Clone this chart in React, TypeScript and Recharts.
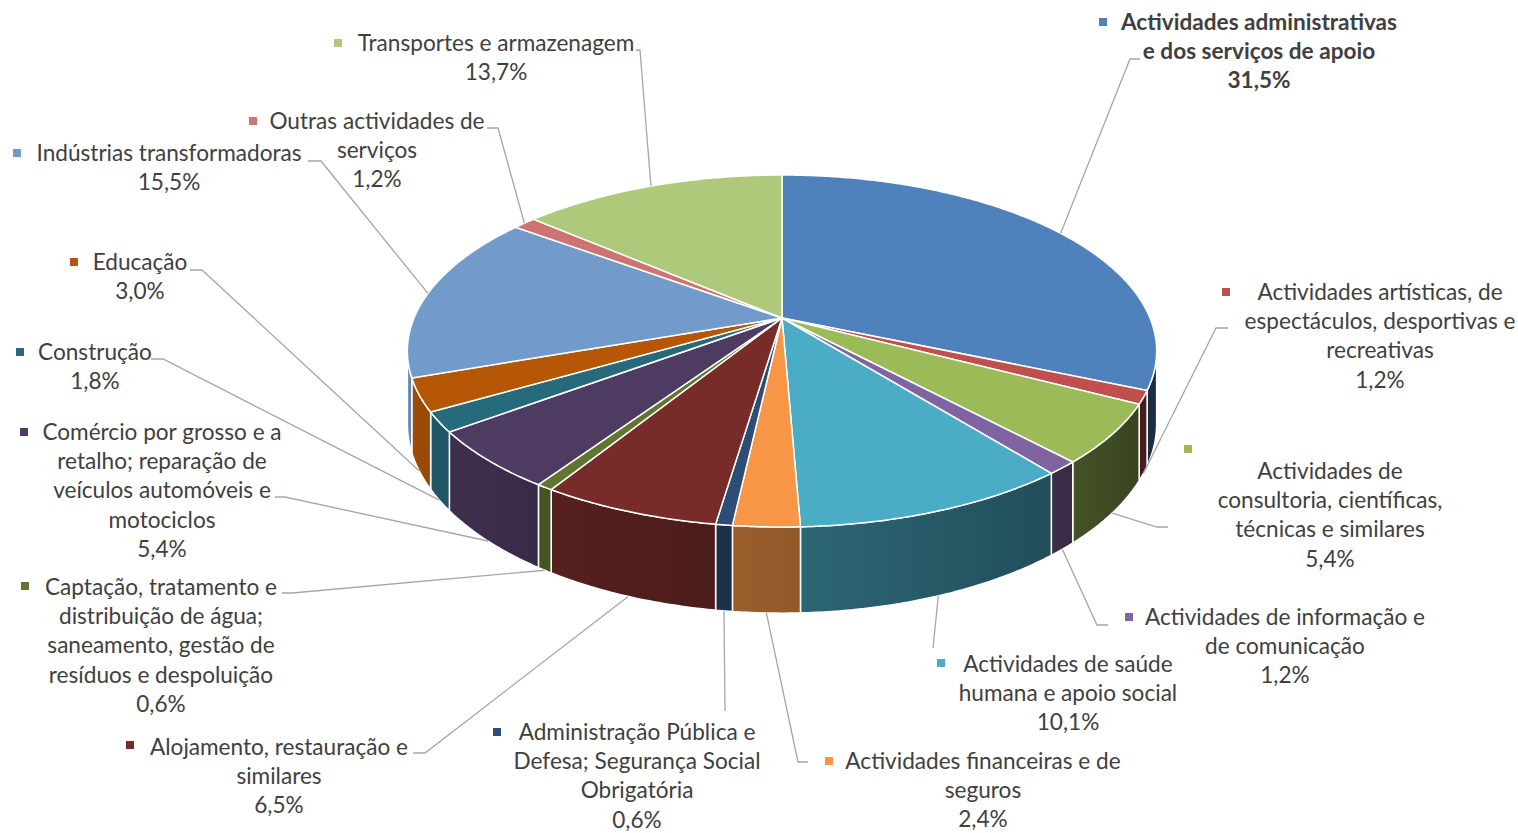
import React from 'react';
import { PieChart, Pie } from 'recharts';

const CATEGORIES = [
  'Actividades administrativas e dos serviços de apoio',
  'Actividades artísticas, de espectáculos, desportivas e recreativas',
  'Actividades de consultoria, científicas, técnicas e similares',
  'Actividades de informação e de comunicação',
  'Actividades de saúde humana e apoio social',
  'Actividades financeiras e de seguros',
  'Administração Pública e Defesa; Segurança Social Obrigatória',
  'Alojamento, restauração e similares',
  'Captação, tratamento e distribuição de água; saneamento, gestão de resíduos e despoluição',
  'Comércio por grosso e a retalho; reparação de veículos automóveis e motociclos',
  'Construção',
  'Educação',
  'Indústrias transformadoras',
  'Outras actividades de serviços',
  'Transportes e armazenagem',
];

const VALUES = [31.5, 1.2, 5.4, 1.2, 10.1, 2.4, 0.6, 6.5, 0.6, 5.4, 1.8, 3.0, 15.5, 1.2, 13.7];

const COLORS = [
  '#4F81BD', '#C0504D', '#9BBB59', '#8064A2', '#4BACC6', '#F79646', '#2C4D75',
  '#772C2A', '#5F7530', '#4D3B62', '#276A7C', '#B65708', '#729ACA', '#CD7371', '#AFC97A',
];

// wrapped label text (layout only)
const LABEL_LINES: string[][] = [
  ['Actividades administrativas', 'e dos serviços de apoio'],
  ['Actividades artísticas, de', 'espectáculos, desportivas e', 'recreativas'],
  ['Actividades de', 'consultoria, científicas,', 'técnicas e similares'],
  ['Actividades de informação e', 'de comunicação'],
  ['Actividades de saúde', 'humana e apoio social'],
  ['Actividades financeiras e de', 'seguros'],
  ['Administração Pública e', 'Defesa; Segurança Social', 'Obrigatória'],
  ['Alojamento, restauração e', 'similares'],
  ['Captação, tratamento e', 'distribuição de água;', 'saneamento, gestão de', 'resíduos e despoluição'],
  ['Comércio por grosso e a', 'retalho; reparação de', 'veículos automóveis e', 'motociclos'],
  ['Construção'],
  ['Educação'],
  ['Indústrias transformadoras'],
  ['Outras actividades de', 'serviços'],
  ['Transportes e armazenagem'],
];

// label layout: text centre x, first line centre y, marker centre, leader elbow, leader end
const LABEL_LAYOUT = [
  { tx: 1259, ty: 22, mx: 1103, my: 22, bx: 1130, by: 59, ex: 1140, ey: 59 },
  { tx: 1380, ty: 292, mx: 1226, my: 292, bx: 1216, by: 328, ex: 1228, ey: 328 },
  { tx: 1330, ty: 471, mx: 1188, my: 449, bx: 1157, by: 527, ex: 1168, ey: 527 },
  { tx: 1285, ty: 617, mx: 1129, my: 617, bx: 1097, by: 625, ex: 1108, ey: 625 },
  { tx: 1068, ty: 664, mx: 941, my: 663, bx: 933, by: 648, ex: 933, ey: 648 },
  { tx: 983, ty: 761, mx: 829, my: 761, bx: 798, by: 762, ex: 808, ey: 762 },
  { tx: 637, ty: 732, mx: 497, my: 732, bx: 725, by: 711, ex: 725, ey: 711 },
  { tx: 279, ty: 747, mx: 130, my: 745, bx: 425, by: 753, ex: 413, ey: 753 },
  { tx: 161, ty: 587, mx: 25, my: 586, bx: 292, by: 593, ex: 282, ey: 593 },
  { tx: 162, ty: 432, mx: 24, my: 432, bx: 285, by: 497, ex: 275, ey: 497 },
  { tx: 95, ty: 352, mx: 20, my: 352, bx: 163, by: 359, ex: 151, ey: 359 },
  { tx: 140, ty: 262, mx: 74, my: 262, bx: 202, by: 270, ex: 190, ey: 270 },
  { tx: 169, ty: 153, mx: 17, my: 153, bx: 321, by: 161, ex: 308, ey: 161 },
  { tx: 377, ty: 121, mx: 253, my: 121, bx: 498, by: 128, ex: 487, ey: 128 },
  { tx: 496, ty: 43, mx: 338, my: 43, bx: 640, by: 50, ex: 636, ey: 50 },
];

const DATA = CATEGORIES.map((name, i) => ({ name, value: VALUES[i] }));

const PERSP = 0.1875;
const TILT = 0.4614;
const DEPTH = 70;
const FONT = "Lato, 'Open Sans', sans-serif";
const FONT_SIZE = 22.6;
const LINE_H = 29.2;
const TEXT_COLOR = '#404040';
const LEADER = '#A6A6A6';

function proj(cx: number, cy: number, r: number, deg: number, drop = 0): [number, number] {
  const t = (deg * Math.PI) / 180;
  const s = Math.sin(t);
  const c = Math.cos(t);
  const w = 1 + PERSP * s;
  return [cx + (r * c) / w, cy - (r * TILT * s) / w + drop / w];
}

function arcPts(cx: number, cy: number, r: number, from: number, to: number, drop = 0) {
  const n = Math.max(2, Math.ceil(Math.abs(to - from) / 0.5) + 1);
  const pts: [number, number][] = [];
  for (let i = 0; i < n; i++) {
    pts.push(proj(cx, cy, r, from + ((to - from) * i) / (n - 1), drop));
  }
  return pts;
}

function shade(hex: string, f: number) {
  const n = parseInt(hex.slice(1), 16);
  const r = Math.round(((n >> 16) & 255) * f);
  const g = Math.round(((n >> 8) & 255) * f);
  const b = Math.round((n & 255) * f);
  return `rgb(${r},${g},${b})`;
}

function wallFactor(deg: number) {
  const phi = (((90 - deg) % 360) + 360) % 360;
  const f = 0.41 + (phi - 130) * 0.0038;
  return Math.min(0.9, Math.max(0.36, f));
}

const fmt = (v: number) => v.toFixed(1).replace('.', ',') + '%';

const renderSlice = (props: any) => {
  const { cx, cy, outerRadius, index } = props;
  const sa: number = props.startAngle;
  const ea: number = props.endAngle;
  const mid: number = props.midAngle ?? (sa + ea) / 2;
  const color = COLORS[index];
  const r = outerRadius;

  // top face
  const top = arcPts(cx, cy, r, sa, ea);
  const topD = `M${cx},${cy} ` + top.map((p) => `L${p[0].toFixed(2)},${p[1].toFixed(2)}`).join(' ') + ' Z';

  // visible wall: sin(theta) < -PERSP
  const lim = (Math.asin(PERSP) * 180) / Math.PI;
  const wLo = Math.max(Math.min(sa, ea), -180 + lim);
  const wHi = Math.min(Math.max(sa, ea), -lim);
  let wall: React.ReactNode = null;
  if (wHi > wLo) {
    const upper = arcPts(cx, cy, r, wHi, wLo);
    const lower = arcPts(cx, cy, r, wLo, wHi, DEPTH);
    const d =
      'M' + upper.map((p) => `${p[0].toFixed(2)},${p[1].toFixed(2)}`).join(' L') +
      ' L' + lower.map((p) => `${p[0].toFixed(2)},${p[1].toFixed(2)}`).join(' L') + ' Z';
    const xl = proj(cx, cy, r, wLo)[0];
    const xr = proj(cx, cy, r, wHi)[0];
    const gid = `wallgrad-${index}`;
    wall = (
      <g>
        <defs>
          <linearGradient id={gid} gradientUnits="userSpaceOnUse" x1={xl} y1={0} x2={xr} y2={0}>
            <stop offset="0%" stopColor={shade(color, wallFactor(wLo))} />
            <stop offset="100%" stopColor={shade(color, wallFactor(wHi))} />
          </linearGradient>
        </defs>
        <path d={d} fill={`url(#${gid})`} stroke="#fff" strokeWidth={1.5} strokeLinejoin="round" />
      </g>
    );
  }

  // leader anchor: wall bottom for front slices, top rim for back slices
  const front = Math.sin((mid * Math.PI) / 180) < -PERSP;
  const anchor = proj(cx, cy, r, mid, front ? DEPTH : 0);
  const L = LABEL_LAYOUT[index];
  const lines = [...LABEL_LINES[index], fmt(VALUES[index])];
  const bold = index === 0;

  return (
    <g key={`slice-${index}`}>
      {wall}
      <path d={topD} fill={color} stroke="#fff" strokeWidth={1.5} strokeLinejoin="round" />
      <polyline
        points={`${anchor[0]},${anchor[1]} ${L.bx},${L.by} ${L.ex},${L.ey}`}
        fill="none"
        stroke={LEADER}
        strokeWidth={1.3}
      />
      <rect x={L.mx - 4} y={L.my - 4} width={8} height={8} fill={color} />
      {lines.map((t, k) => (
        <text
          key={k}
          x={L.tx}
          y={L.ty + k * LINE_H}
          dy="0.35em"
          textAnchor="middle"
          fontFamily={FONT}
          fontSize={FONT_SIZE}
          fontWeight={bold ? 700 : 400}
          fill={TEXT_COLOR}
        >
          {t}
        </text>
      ))}
    </g>
  );
};

export default function App() {
  return (
    <div style={{ position: 'absolute', left: 0, top: 0, width: 1518, height: 833, background: '#fff' }}>
      <PieChart width={1518} height={833} margin={{ top: 0, right: 0, bottom: 0, left: 0 }}>
        <Pie
          data={DATA}
          dataKey="value"
          nameKey="name"
          cx={782}
          cy={318}
          outerRadius={368}
          startAngle={90}
          endAngle={-270}
          fill="none"
          stroke="none"
          label={renderSlice}
          labelLine={false}
          isAnimationActive={false}
        />
      </PieChart>
    </div>
  );
}
